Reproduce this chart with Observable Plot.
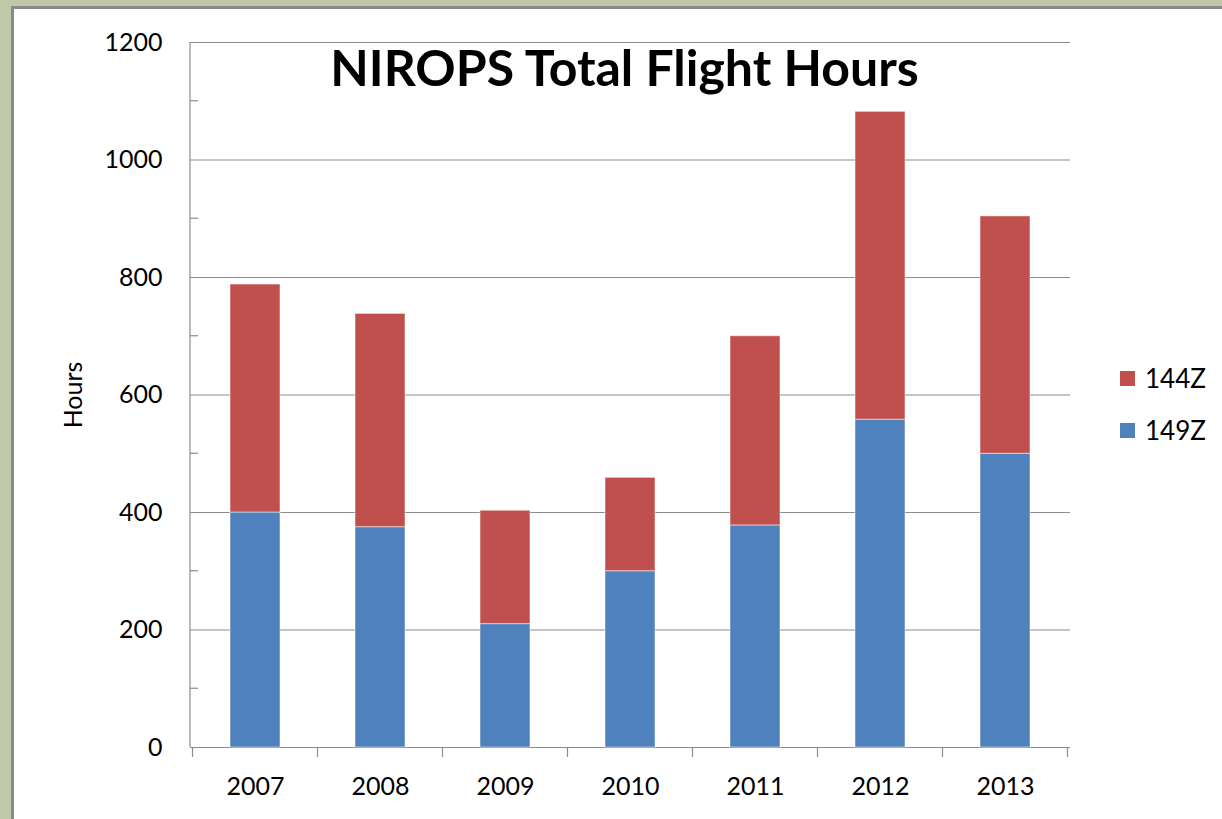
<!DOCTYPE html>
<html>
<head>
<meta charset="utf-8">
<script src="https://cdn.jsdelivr.net/npm/d3@7"></script>
<script src="https://cdn.jsdelivr.net/npm/@observablehq/plot@0.6"></script>
<style>
  html, body { margin: 0; padding: 0; width: 1222px; height: 819px; overflow: hidden; background: #bfc9a9; }
  #panel { position: absolute; left: 11px; top: 6px; width: 1208px; height: 810px;
           border-left: 3px solid #8a8a8a; border-top: 3px solid #8a8a8a; background: #fff; }
  #legend { position: absolute; left: 1106px; top: 343px; font-family: Lato, "Open Sans", sans-serif; font-size: 26px; color: #000; }
  .item { display: flex; align-items: center; height: 52px; }
  .sw { width: 15px; height: 15px; margin-right: 10px; }
  svg { display: block; }
</style>
</head>
<body>
<div id="panel"><div id="legend"></div></div>
<script>
// ---- data ----
const years = ["2007", "2008", "2009", "2010", "2011", "2012", "2013"];
const hours149Z = [400, 375, 210, 300, 378, 558, 500];
const hours144Z = [388, 363, 193, 159, 322, 524, 404];
const series = ["144Z", "149Z"];           // legend order (top to bottom)
const seriesColors = ["#c0504d", "#4f81bd"];
const majorTicks = [0, 200, 400, 600, 800, 1000, 1200];
const minorTicks = [100, 300, 500, 700, 900, 1100];
const titleText = "NIROPS Total Flight Hours";
const yLabel = "Hours";

const rows = [];
years.forEach((y, i) => {
  rows.push({year: y, series: "149Z", hours: hours149Z[i]});
  rows.push({year: y, series: "144Z", hours: hours144Z[i]});
});

const axisColor = "#8c8c8c";

// custom axis lines, category boundary ticks, inward minor ticks
function axisDecor(index, scales, values, dimensions) {
  const x = scales.x, y = scales.y;
  const {marginLeft, marginTop, height, marginBottom} = dimensions;
  const y0 = height - marginBottom;
  const g = d3.create("svg:g").attr("stroke", axisColor).attr("stroke-width", 1.2);
  g.append("line").attr("x1", marginLeft).attr("x2", marginLeft).attr("y1", marginTop).attr("y2", y0);
  const bw = x.bandwidth();
  const step = x.step ? x.step() : bw / 0.4;
  const gap = (step - bw) / 2;
  const bounds = years.map(d => x(d) - gap).concat([x(years[years.length - 1]) + bw + gap]);
  for (const b of bounds) {
    g.append("line").attr("x1", b).attr("x2", b).attr("y1", y0).attr("y2", y0 + 10);
  }
  for (const t of minorTicks) {
    g.append("line").attr("x1", marginLeft).attr("x2", marginLeft + 8).attr("y1", y(t)).attr("y2", y(t));
  }
  return g.node();
}

const chart = Plot.plot({
  width: 1208,
  height: 810,
  marginLeft: 176,
  marginRight: 152,
  marginTop: 33,
  marginBottom: 72,
  style: {fontFamily: "Lato, 'Open Sans', sans-serif", fontSize: "25px", color: "#000", background: "transparent"},
  x: {domain: years, paddingInner: 0.6, paddingOuter: 0.3, label: null},
  y: {domain: [0, 1200], label: null},
  color: {domain: series, range: seriesColors},
  marks: [
    Plot.gridY(majorTicks, {stroke: axisColor, strokeOpacity: 1, strokeWidth: 1.2}),
    Plot.barY(rows, {x: "year", y: "hours", fill: "series", order: ["149Z", "144Z"], stroke: "#fff", strokeOpacity: 0.5, strokeWidth: 1}),
    axisDecor,
    Plot.axisY(majorTicks, {tickSize: 0, tickPadding: 28, label: null, fontSize: 25, tickFormat: d => String(d)}),
    Plot.axisX({tickSize: 0, tickPadding: 30, label: null, fontSize: 25}),
    Plot.text([titleText], {text: d => d, frameAnchor: "top", dx: -6, dy: 8, fontSize: 50, fontWeight: "bold"}),
    Plot.text([yLabel], {text: d => d, frameAnchor: "left", textAnchor: "middle", dx: -117, dy: 0, rotate: -90, fontSize: 25})
  ]
});
document.getElementById("panel").prepend(chart);

const legend = d3.select("#legend");
series.forEach((s, i) => {
  const item = legend.append("div").attr("class", "item");
  item.append("div").attr("class", "sw").style("background", seriesColors[i]);
  item.append("span").text(s);
});
</script>
</body>
</html>
